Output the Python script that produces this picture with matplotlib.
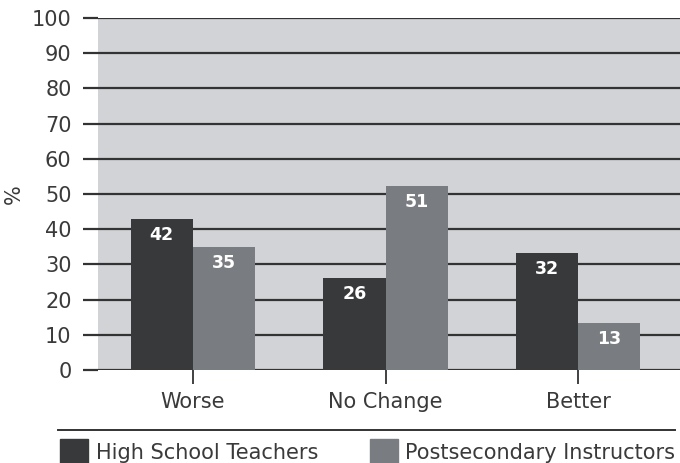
import numpy as np
import matplotlib.pyplot as plt
from matplotlib.patches import Rectangle
from matplotlib.lines import Line2D

plt.rcParams['font.family'] = ['DejaVu Sans']

# Datos
categorias = ["Worse", "No Change", "Better"]
series = ["High School Teachers", "Postsecondary Instructors"]
alturas_hs = [42.8, 26.2, 33.1]
alturas_ps = [34.9, 52.3, 13.3]
etiquetas_hs = ["42", "26", "32"]
etiquetas_ps = ["35", "51", "13"]
yticks = list(range(0, 101, 10))

c_oscuro = "#38393b"
c_gris = "#797c80"
c_fondo = "#d1d3d7"
c_linea = "#333333"
c_texto = "#3a3a3a"
fs = 15

W, H = 680, 463
fig = plt.figure(figsize=(W / 100, H / 100), dpi=100)
ax = fig.add_axes([98 / W, 1 - 370 / H, 582 / W, 352 / H])
ax.set_facecolor(c_fondo)

x = np.arange(len(categorias))
ancho = 0.322
b1 = ax.bar(x - ancho / 2, alturas_hs, ancho, color=c_oscuro, zorder=3)
b2 = ax.bar(x + ancho / 2, alturas_ps, ancho, color=c_gris, zorder=3)

for barras, etiquetas in ((b1, etiquetas_hs), (b2, etiquetas_ps)):
    for b, txt in zip(barras, etiquetas):
        ax.annotate(txt, (b.get_x() + b.get_width() / 2, b.get_height()),
                    xytext=(0, -5), textcoords="offset points",
                    ha="center", va="top", color="white",
                    fontsize=12.5, fontweight="bold", zorder=4)

ax.set_xlim(-0.491, 2.527)
ax.set_ylim(0, 100)
ax.set_yticks(yticks)
ax.set_xticks(x)
ax.set_xticklabels(categorias)
ax.grid(axis="y", color=c_linea, linewidth=1.6, zorder=1)
ax.set_axisbelow(True)
for s in ax.spines.values():
    s.set_visible(False)
ax.tick_params(axis="y", length=11, width=1.6, color=c_linea, pad=8,
               labelsize=fs, labelcolor=c_texto)
ax.tick_params(axis="x", length=10, width=1.3, color=c_linea, pad=6,
               labelsize=fs, labelcolor=c_texto)
ax.set_ylabel("%", fontsize=fs, color=c_texto)
ax.yaxis.set_label_coords(-0.128, 0.5)

# Línea separadora y leyenda
fig.add_artist(Line2D([58 / W, 675 / W], [1 - 430 / H, 1 - 430 / H],
                      color=c_linea, linewidth=1.4))
fig.add_artist(Rectangle((60 / W, 1 - 465 / H), 28 / W, 26 / H,
                         color=c_oscuro, transform=fig.transFigure))
fig.text(96 / W, 1 - 453 / H, series[0], fontsize=fs, color=c_texto,
         va="center", ha="left")
fig.add_artist(Rectangle((370 / W, 1 - 465 / H), 28 / W, 26 / H,
                         color=c_gris, transform=fig.transFigure))
fig.text(405 / W, 1 - 453 / H, series[1], fontsize=fs, color=c_texto,
         va="center", ha="left")

fig.savefig("out.png", dpi=100)
